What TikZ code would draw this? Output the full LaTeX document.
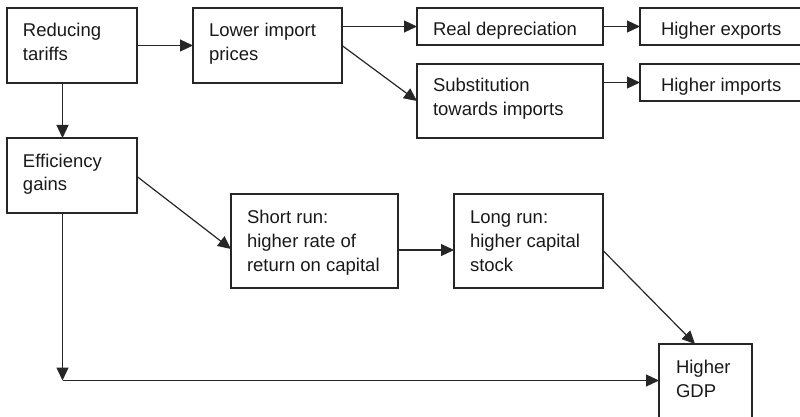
\documentclass[tikz,border=0pt]{standalone}
\usepackage{fontspec}
\setmainfont{Liberation Sans}
\usetikzlibrary{arrows.meta,calc}
\tikzset{
  box/.style={draw=black!85, line width=1.4pt, inner sep=0pt, outer sep=0pt, anchor=north west},
  txt/.style={anchor=base west, inner sep=0pt, outer sep=0pt, text=black!90,
    font=\fontsize{18.5}{24}\selectfont},
  conn/.style={draw=black!85, line width=1.2pt, -{Triangle[length=13pt,width=12pt]}},
  plain/.style={draw=black!85, line width=1.2pt}
}
\newcommand{\lns}[1]{\begin{tabular}[t]{@{}l@{}}#1\end{tabular}}
\begin{document}
\begin{tikzpicture}[x=1pt,y=-1pt]
\useasboundingbox (0,0) rectangle (800,417);
\clip (0,0) rectangle (800,417);
% boxes
\node[box, minimum width=130pt, minimum height=75pt] (RT) at (7,8) {};
\node[box, minimum width=149pt, minimum height=75pt] (LIP) at (193,8) {};
\node[box, minimum width=130pt, minimum height=75pt] (EG) at (7,138) {};
\node[box, minimum width=186pt, minimum height=37pt] (RD) at (417,8) {};
\node[box, minimum width=190pt, minimum height=37pt] (HE) at (640,8) {};
\node[box, minimum width=186pt, minimum height=74pt] (SUB) at (417,64) {};
\node[box, minimum width=190pt, minimum height=37pt] (HI) at (640,64) {};
\node[box, minimum width=167pt, minimum height=94pt] (SR) at (231,194) {};
\node[box, minimum width=149pt, minimum height=94pt] (LR) at (454,194) {};
\node[box, minimum width=93pt, minimum height=96pt] (GDP) at (659,344) {};
% texts
\node[txt] (RTt) at ($(RT.north west)+(16,29)$) {\lns{Reducing\\tariffs}};
\node[txt] (LIPt) at ($(LIP.north west)+(16,29)$) {\lns{Lower import\\prices}};
\node[txt] (EGt) at ($(EG.north west)+(16,29)$) {\lns{Efficiency\\gains}};
\node[txt] (RDt) at ($(RD.north west)+(16,28)$) {Real depreciation};
\node[txt] (HEt) at ($(HE.north west)+(21,28)$) {Higher exports};
\node[txt] (SUBt) at ($(SUB.north west)+(16,28)$) {\lns{Substitution\\towards imports}};
\node[txt] (HIt) at ($(HI.north west)+(21,28)$) {Higher imports};
\node[txt] (SRt) at ($(SR.north west)+(16,29)$) {\lns{Short run:\\higher rate of\\return on capital}};
\node[txt] (LRt) at ($(LR.north west)+(16,29)$) {\lns{Long run:\\higher capital\\stock}};
\node[txt] (GDPt) at ($(GDP.north west)+(17,29)$) {\lns{Higher\\GDP}};
% connectors
\coordinate (corner) at (62.5,380.5);
\path[conn] (RT.east) -- (LIP.west);
\path[conn] ([xshift=-9.5pt]RT.south) -- ([xshift=-9.5pt]EG.north);
\path[conn] (RD.west -| LIP.east) -- (RD.west);
\path[conn] (LIP.east) -- (SUB.west);
\path[conn] (RD.east) -- (RD.east -| HE.west);
\path[conn] (SUB.east |- HI.west) -- (HI.west);
\path[conn] ([yshift=-1pt]EG.east) -- ([yshift=-8pt]SR.west);
\path[conn] ([yshift=-9pt]SR.east) -- ([yshift=-9pt]LR.west);
\path[conn] ([yshift=-9.5pt]LR.east) -- ([xshift=-10.5pt]GDP.north);
\path[conn] (EG.south -| corner) -- (corner);
\path[conn] (corner) -- (corner -| GDP.west);
\end{tikzpicture}
\end{document}
